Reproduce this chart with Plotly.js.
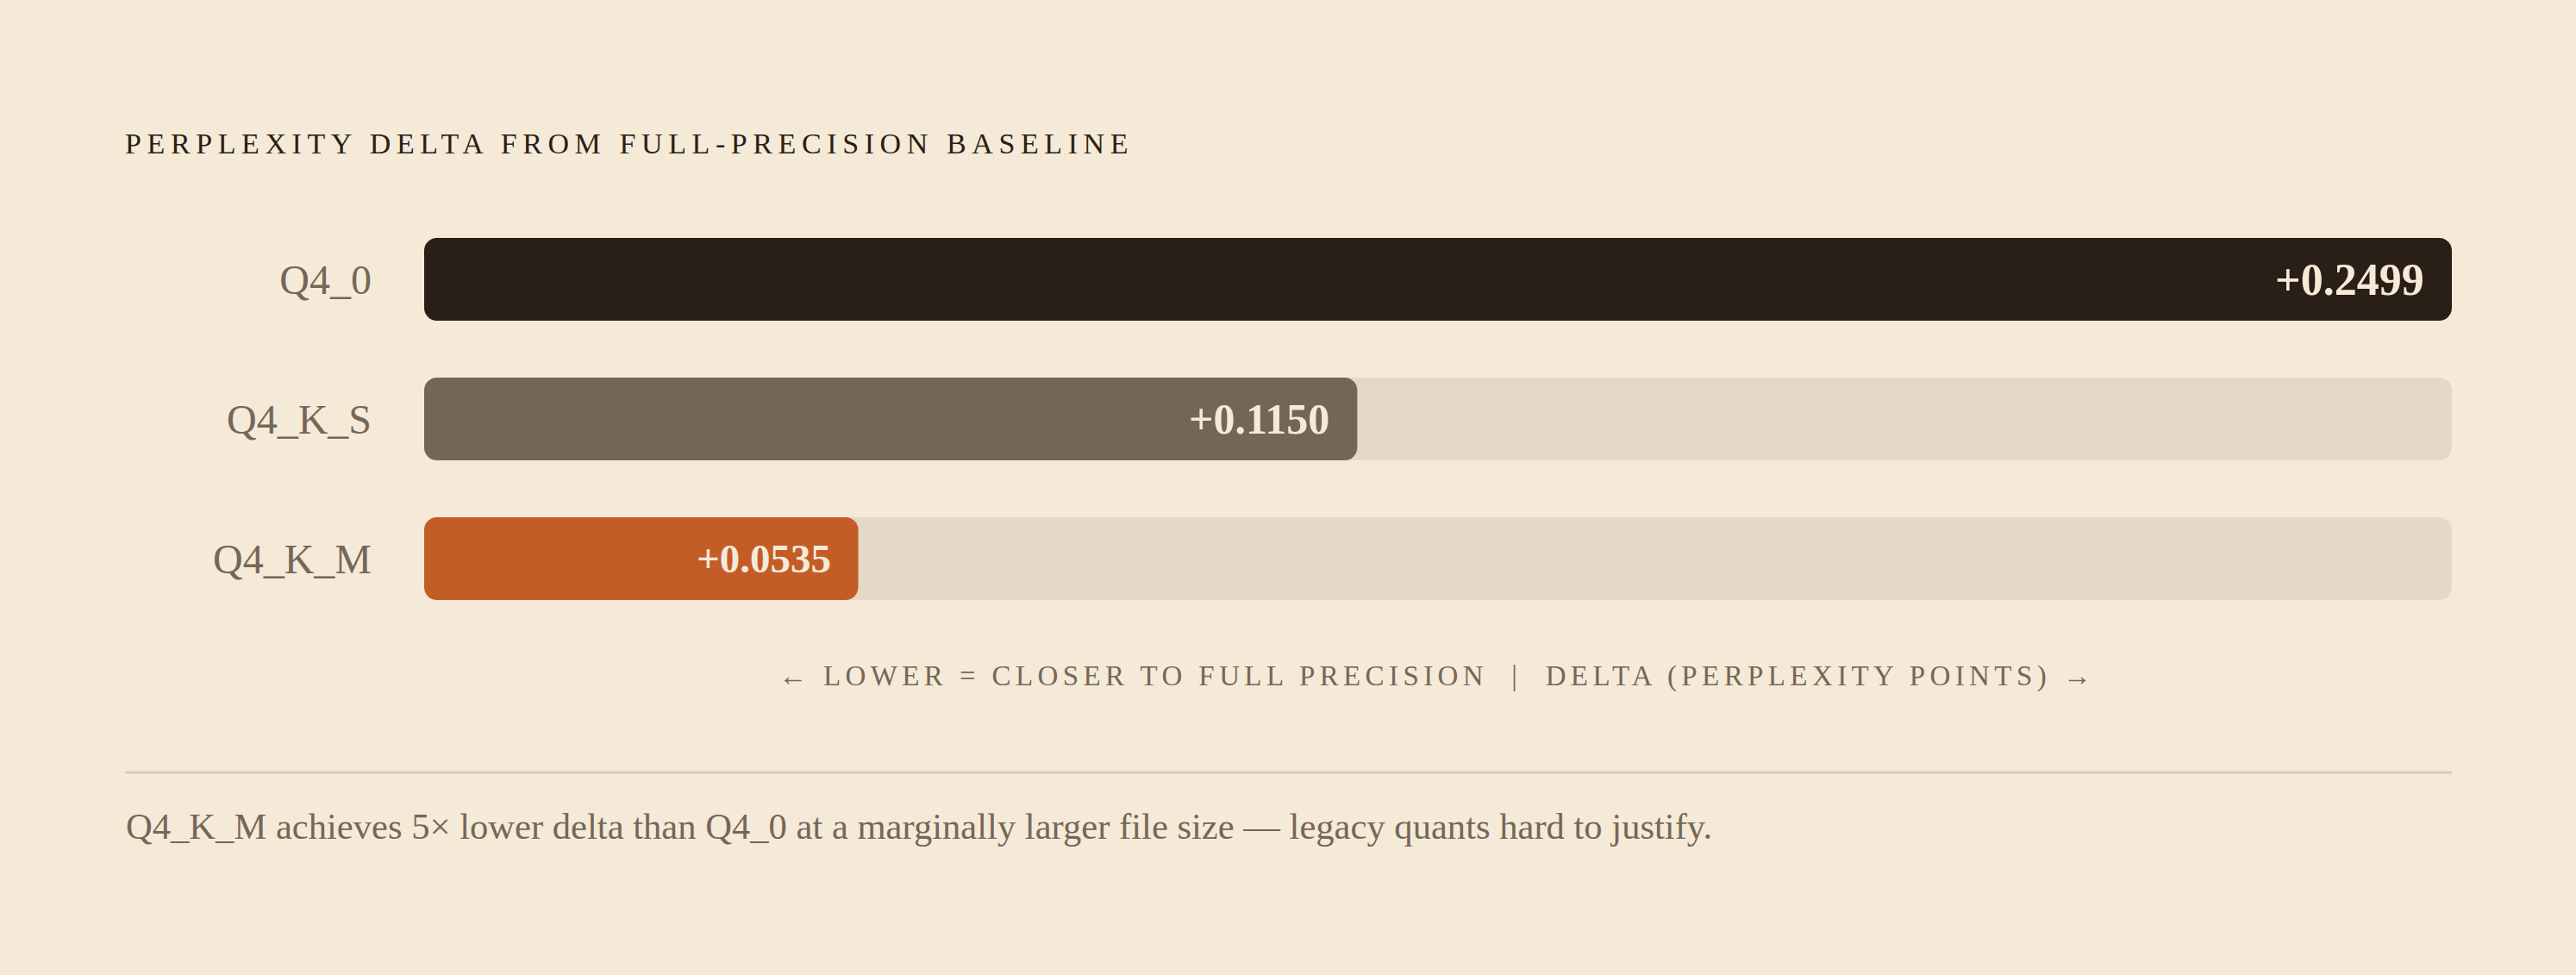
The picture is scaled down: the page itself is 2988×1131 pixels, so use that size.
<!DOCTYPE html>
<html>
<head>
<meta charset="utf-8">
<script src="https://cdn.plot.ly/plotly-3.0.1.min.js"></script>
<style>
  html, body { margin: 0; padding: 0; background: #f5ead8; }
  #chart { width: 2988px; height: 1131px; }
</style>
</head>
<body>
<div id="chart"></div>
<script>
// ---- data ----
const categories = ["Q4_0", "Q4_K_S", "Q4_K_M"];
const deltas = [0.2499, 0.1150, 0.0535];
const valueLabels = ["+0.2499", "+0.1150", "+0.0535"];
const barColors = ["#2a1f16", "#736657", "#c45c28"];
const titleText = "PERPLEXITY DELTA FROM FULL-PRECISION BASELINE";
const axisText = "← LOWER = CLOSER TO FULL PRECISION  |  DELTA (PERPLEXITY POINTS) →";
const noteText = "Q4_K_M achieves 5× lower delta than Q4_0 at a marginally larger file size — legacy quants hard to justify.";

const trackMax = Math.max(...deltas);
const serif = "Liberation Serif, Times New Roman, serif";
const R = 15;

// each bar is drawn as two overlapping halves so that both ends get rounded corners
function halves(values, color, trackColor) {
  const col = trackColor || color;
  const left = {
    type: "bar", orientation: "h", y: categories,
    base: values.map(v => v * 0.55), x: values.map(v => -v * 0.55),
    marker: { color: col, cornerradius: R }, hoverinfo: "skip", showlegend: false
  };
  const right = {
    type: "bar", orientation: "h", y: categories,
    base: values.map(v => v * 0.45), x: values.map(v => v * 0.55),
    marker: { color: col, cornerradius: R }, hoverinfo: "skip", showlegend: false
  };
  return [left, right];
}

const trackVals = categories.map(() => trackMax);
const traces = [
  ...halves(trackVals, null, "#e4d8c6"),
  ...halves(deltas, barColors)
];

const labelSizes = [52, 50, 47];
const annotations = categories.map((c, i) => ({
  x: deltas[i], y: c, xref: "x", yref: "y",
  text: "<b>" + valueLabels[i] + "</b>",
  showarrow: false, xanchor: "right", yanchor: "middle", xshift: -30,
  font: { family: serif, size: labelSizes[i], color: "#f5ead8" }
}));

annotations.push({
  xref: "paper", yref: "paper", x: -0.1475, y: 1.158,
  xanchor: "left", yanchor: "middle", showarrow: false,
  text: titleText, font: { family: serif, size: 34, color: "#2a1f16" }
});
annotations.push({
  xref: "paper", yref: "paper", x: 0.5, y: -0.1152,
  xanchor: "center", yanchor: "middle", showarrow: false,
  text: axisText, font: { family: serif, size: 33, color: "#756758" }
});
annotations.push({
  xref: "paper", yref: "paper", x: -0.1479, y: -0.473,
  xanchor: "left", yanchor: "middle", showarrow: false,
  text: noteText, font: { family: serif, size: 42.6, color: "#756758" }
});

const layout = {
  width: 2988, height: 1131,
  paper_bgcolor: "#f5ead8", plot_bgcolor: "#f5ead8",
  margin: { l: 492, r: 144, t: 243, b: 402 },
  barmode: "overlay", bargap: 0.407,
  xaxis: { range: [0, trackMax], showgrid: false, zeroline: false, showticklabels: false, showline: false, fixedrange: true },
  yaxis: {
    autorange: "reversed", showgrid: false, zeroline: false, showline: false, ticks: "",
    ticklabelstandoff: 60,
    tickfont: { family: serif, size: 48, color: "#756758" }, fixedrange: true
  },
  shapes: [{
    type: "line", xref: "paper", yref: "paper",
    x0: -0.1475, x1: 1.0, y0: -0.3436, y1: -0.3436,
    line: { color: "#d8ccb9", width: 3 }
  }],
  annotations: annotations,
  font: { family: serif }
};

function spaceText(t, spacing, mode, target) {
  t.style.letterSpacing = spacing + "px";
  const r = t.getBoundingClientRect();
  const cur = mode === "left" ? r.left : (r.left + r.right) / 2;
  const dx = target - cur;
  const prev = t.getAttribute("transform") || "";
  t.setAttribute("transform", prev + " translate(" + dx + ",0)");
}

Plotly.newPlot("chart", traces, layout, { staticPlot: true, displayModeBar: false }).then(() => {
  document.querySelectorAll(".annotation-text").forEach(t => {
    const s = t.textContent;
    if (s === titleText) spaceText(t, 6.6, "left", 145);
    else if (s === axisText) spaceText(t, 5.4, "center", 1667);
  });
});
</script>
</body>
</html>
